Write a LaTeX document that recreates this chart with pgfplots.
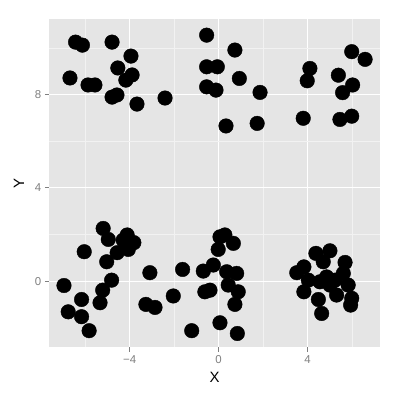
\documentclass[border=0pt]{standalone}
\usepackage{pgfplots}
\usepackage{fontspec}
\setmainfont{Liberation Sans}
\usetikzlibrary{calc}
\pgfplotsset{compat=1.18}
\definecolor{panel}{HTML}{E5E5E5}
\definecolor{minorgrid}{HTML}{F2F2F2}
\definecolor{tickgray}{HTML}{7F7F7F}

\begin{document}
\begin{tikzpicture}
\begin{axis}[
  scale only axis,
  width=330.7bp, height=327.7bp,
  xmin=-7.61, xmax=7.25,
  ymin=-2.83, ymax=11.24,
  axis background/.style={fill=panel},
  axis line style={draw=none},
  xtick={-4,0,4}, xticklabels={−4,0,4},
  ytick={0,4,8}, yticklabels={0,4,8},
  minor xtick={-6,-2,2,6}, minor ytick={2,6,10},
  xtick pos=bottom, ytick pos=left,
  tick align=outside,
  major tick length=4.5bp, minor tick length=0pt,
  tick style={draw=tickgray, line width=0.9bp},
  xmajorgrids, ymajorgrids, xminorgrids, yminorgrids,
  major grid style={draw=white, line width=1.1bp},
  minor grid style={draw=minorgrid, line width=0.5bp},
  ticklabel style={text=tickgray, font=\fontsize{11.5}{13}\selectfont},
  xticklabel style={yshift=-0.5bp},
  label style={font=\fontsize{15}{17}\selectfont},
  xlabel={X}, ylabel={Y},
  xlabel style={yshift=-2bp},
  ylabel style={yshift=4bp},
  clip=false,
]
\addplot[only marks, mark=*, mark size=7.3bp, draw=black, fill=black]
  table {
x y
-6.43 10.26
-6.12 10.13
-4.79 10.26
-6.68 8.72
-5.87 8.42
-5.56 8.42
-3.94 9.66
-4.53 9.15
-3.89 8.85
-4.17 8.63
-4.79 7.90
-4.57 7.99
-3.67 7.60
-2.41 7.86
-0.54 10.56
-0.54 9.20
-0.06 9.20
-0.54 8.34
-0.12 8.20
0.73 9.92
0.93 8.70
1.86 8.10
0.33 6.66
1.73 6.77
3.80 6.99
4.10 9.13
3.98 8.60
5.38 8.84
5.98 9.85
6.58 9.52
6.02 8.42
5.57 8.09
5.45 6.94
5.98 7.08
-5.19 2.26
-4.96 1.79
-4.11 1.98
-4.29 1.76
-3.81 1.65
-4.06 1.36
-4.56 1.22
-6.04 1.26
-5.03 0.83
-4.81 0.04
-6.95 -0.19
-5.21 -0.39
-5.33 -0.93
-6.16 -0.79
-6.76 -1.32
-6.16 -1.53
-5.82 -2.13
-3.09 0.36
-3.27 -1.00
-2.86 -1.13
-1.62 0.50
-2.04 -0.64
-1.21 -2.13
-0.69 0.43
-0.24 0.69
-0.62 -0.46
-0.39 -0.39
0.06 1.90
-0.02 1.36
0.06 -1.79
0.28 1.98
0.66 1.62
0.36 0.40
0.81 0.33
0.43 -0.17
0.88 -0.46
0.73 -1.00
0.84 -2.25
4.37 1.19
5.00 1.30
4.70 0.83
5.68 0.80
3.83 0.61
3.51 0.36
5.60 0.33
4.03 0.04
4.85 0.18
4.55 -0.03
5.23 0.04
5.00 -0.17
5.82 -0.17
3.83 -0.46
5.30 -0.60
4.48 -0.79
5.98 -0.74
5.93 -1.03
4.63 -1.39
  };
\coordinate (sw) at (rel axis cs:0,0);
\end{axis}
\path[use as bounding box] ($(sw)+(-49.3bp,-53bp)$) rectangle ++(400bp,400bp);
\end{tikzpicture}
\end{document}
